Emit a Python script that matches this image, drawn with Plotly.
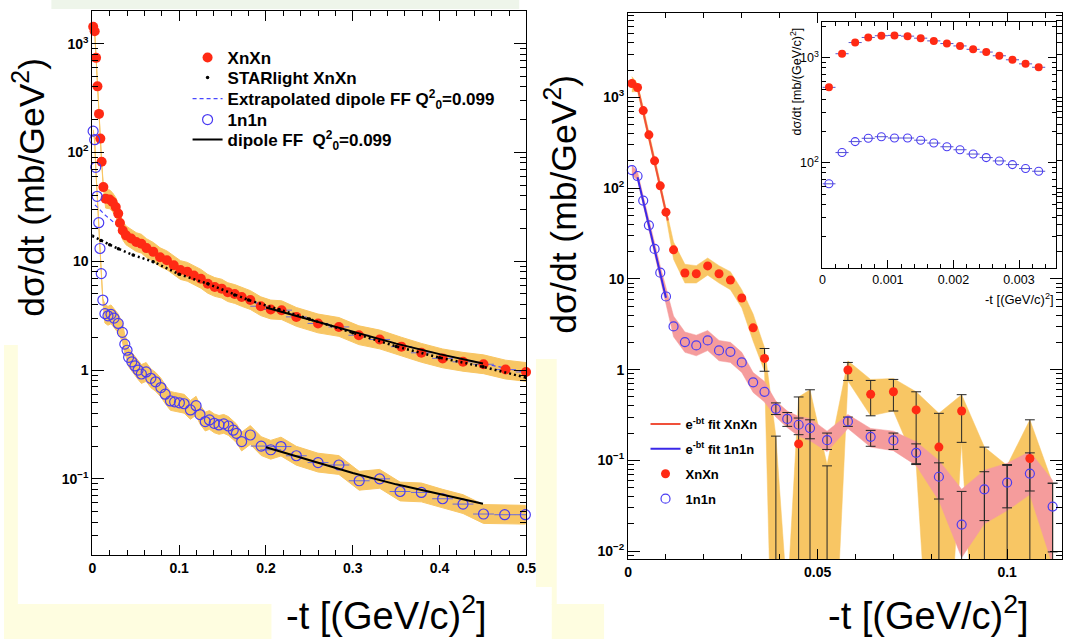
import plotly.graph_objects as go

W, H = 1073, 639
FONT = "Liberation Sans"
RED = "#ff2a14"
BLUE = "#4a3cf2"
ORANGE = "#f8c664"
PINK = "#f59c9c"

# ---------------- left panel data ----------------
t_xn_L = [0.001, 0.0027, 0.0043, 0.0059, 0.0077, 0.0092, 0.0107, 0.0127,
          0.0153, 0.0200, 0.0232, 0.0270, 0.0298, 0.0318, 0.0350, 0.0388,
          0.0447, 0.0506, 0.0565, 0.0624, 0.0702, 0.0780, 0.0859, 0.0938,
          0.1015, 0.1094, 0.1170, 0.1250, 0.1330, 0.1410, 0.1490, 0.1560,
          0.1640, 0.1720, 0.1820, 0.1940, 0.2055, 0.2180, 0.2350, 0.2600,
          0.2840, 0.3070, 0.3310, 0.3560, 0.3790, 0.4035, 0.4270, 0.4506,
          0.4760, 0.4996]
xn_L = [1430, 1300, 740, 405, 226, 134, 82, 48,
        37.6, 37, 35, 31.5, 27.4, 22.5, 19.2, 17.3,
        16.2, 15.0, 14.5, 13.2, 12.2, 10.9, 10.2, 9.2,
        8.3, 8.0, 7.4, 6.9, 6.2, 5.8, 5.6, 5.2,
        5.0, 4.7, 4.4, 3.86, 3.6, 3.55, 3.08, 2.68,
        2.49, 2.09, 1.91, 1.64, 1.44, 1.28, 1.19, 1.13,
        1.01, 0.96]

t_n1_L = [0.0009, 0.0027, 0.0039, 0.0055, 0.0074, 0.0088, 0.0103, 0.0121,
          0.0145, 0.0180, 0.0215, 0.0250,
          0.0298, 0.0346, 0.0374, 0.0400, 0.0418, 0.0455, 0.0491, 0.0527,
          0.0565, 0.0620, 0.0674, 0.0729, 0.0790, 0.0839, 0.0900, 0.0948,
          0.1003, 0.1057, 0.1130, 0.1195, 0.1240, 0.1301, 0.1349, 0.1404,
          0.1459, 0.1514, 0.1568, 0.1623, 0.1660,
          0.1720, 0.1820, 0.1945, 0.2055, 0.2173, 0.2350, 0.2600, 0.2840,
          0.3074, 0.3310, 0.3545, 0.3790, 0.4035, 0.4270, 0.4506, 0.4750,
          0.4988]
n1_L = [157, 131, 73, 39.5, 22.6, 13.1, 7.7, 4.4,
        3.3, 3.15, 3.25, 3.0,
        2.68, 2.22, 1.73, 1.52, 1.31, 1.19, 1.09, 1.0,
        0.92, 0.96, 0.84, 0.78, 0.69, 0.60, 0.52, 0.51,
        0.50, 0.49, 0.43, 0.47, 0.39, 0.336, 0.348, 0.324,
        0.313, 0.32, 0.306, 0.28, 0.262,
        0.22, 0.253, 0.2, 0.185, 0.198, 0.163, 0.141, 0.134,
        0.096, 0.1, 0.0765, 0.075, 0.0656, 0.0586, 0.0475, 0.0468,
        0.0468]

t_star = [0.0, 0.01, 0.02, 0.03, 0.047, 0.07, 0.10, 0.133, 0.164, 0.18,
          0.215, 0.25, 0.30, 0.35, 0.40, 0.45, 0.50]
star = [17.1, 15.5, 14.2, 13.0, 11.4, 9.9, 7.6, 6.2, 4.9, 4.4,
        3.6, 2.95, 2.2, 1.65, 1.3, 1.07, 0.85]

t_extrap = [0.003, 0.015, 0.031, 0.05, 0.10, 0.15, 0.20, 0.25, 0.30,
            0.35, 0.40, 0.45, 0.50]
extrap = [33, 26.5, 20.6, 15.5, 8.6, 5.6, 3.8, 2.9, 2.24, 1.75, 1.4, 1.15, 0.95]

t_dip = [0.20, 0.25, 0.30, 0.35, 0.40, 0.45]
dip_xn = [3.76, 2.9, 2.24, 1.75, 1.4, 1.15]
dip_n1 = [0.195, 0.148, 0.113, 0.089, 0.072, 0.059]

# band half-width (relative): thin near t=0, ~22% elsewhere
band_rel_small, band_rel = 0.03, 0.22
xerr_L = 0.012  # horizontal error bars visible at -t > 0.19

# ---------------- right panel data ----------------
t_R = [0.001, 0.0025, 0.004, 0.0055, 0.007, 0.0085, 0.010, 0.012, 0.015,
       0.018, 0.021, 0.024, 0.027, 0.030, 0.033, 0.036, 0.039, 0.042,
       0.045, 0.048, 0.0525, 0.058, 0.064, 0.070, 0.076, 0.082, 0.088,
       0.094, 0.100, 0.106, 0.112]
xn_R = [1423, 1286, 716, 387, 200, 106, 54.4, 20.9, 11.6, 11.4, 13.9, 11.4,
        9.7, 6.15, 2.89, 1.33, None, None, 0.152, None, None, 0.99, 0.536,
        0.57, 0.36, 0.14, 0.35, None, None, 0.105, None]
xn_bar_lo = [None] * 15 + [0.96, 1e-5, None, 1e-5, 1e-5, 1e-5, 0.76, 0.31,
                           0.35, 0.09, 1e-5, 0.158, 1e-5, 1e-5, 1e-5, 1e-5]
xn_bar_hi = [None] * 15 + [1.71, 0.185, None, 0.5, 0.6, 0.087, 1.2, 0.76,
                           0.78, 0.57, 0.33, 0.53, 0.14, 0.088, 0.28, 0.056]
xn_band_lo = [1150, 1160, 645, 350, 180, 95, 49, 16.5, 9.0, 9.0, 11.0, 9.0,
              7.6, 4.8, 2.06, 0.96, 1e-5, 1e-5, 1e-5, 1e-5, 1e-5, 0.75, 0.31,
              0.35, 0.09, 1e-5, 0.158, 1e-5, 1e-5, 1e-5, 1e-5]
xn_band_hi = [1700, 1420, 790, 425, 220, 117, 60, 25.5, 14.5, 14.0, 17.0,
              14.0, 12.0, 7.6, 4.1, 1.75, 0.185, 0.003, 0.5, 0.6, 0.09, 1.25,
              0.78, 0.8, 0.57, 0.33, 0.53, 0.14, 0.088, 0.28, 0.056]

n1_R = [158, 136, 73, 38.9, 21.4, 11.7, 6.4, 2.99, 2.01, 1.85, 2.10, 1.63,
        1.57, 1.2, 0.725, 0.57, 0.37, 0.286, 0.247, 0.227, 0.167, 0.269,
        0.182, 0.166, 0.121, 0.066, 0.0196, 0.048, 0.057, 0.0716, 0.031]
n1_bar_lo = [None] * 16 + [0.32, 0.237, 0.192, 0.173, 0.132, 0.237, 0.143,
                           0.132, 0.092, 0.0375, 1e-5, 0.0217, 0.030, 0.046,
                           0.0098]
n1_bar_hi = [None] * 16 + [0.43, 0.337, 0.293, 0.28, 0.2, 0.3, 0.214, 0.2,
                           0.152, 0.094, 0.0455, 0.075, 0.09, 0.121, 0.056]
n1_band_lo = [140, 122, 65, 34, 18.5, 10, 5.3, 2.3, 1.55, 1.42, 1.62, 1.25,
              1.2, 0.93, 0.56, 0.44, 0.30, 0.23, 0.185, 0.165, 0.125, 0.225,
              0.14, 0.128, 0.088, 0.036, 0.0085, 0.02, 0.028, 0.042, 0.007]
n1_band_hi = [178, 152, 82, 44, 25, 13.8, 7.8, 3.9, 2.6, 2.4, 2.7, 2.1, 2.0,
              1.55, 0.93, 0.74, 0.45, 0.35, 0.305, 0.29, 0.21, 0.32, 0.225,
              0.21, 0.16, 0.1, 0.048, 0.078, 0.093, 0.125, 0.06]

fit_t_xn = [0.0025, 0.0105]
fit_xn = [1300, 44]
fit_t_n1 = [0.0025, 0.0100]
fit_n1 = [132, 6.2]

# ---------------- inset data ----------------
t_in = [0.0001, 0.0003, 0.0005, 0.0007, 0.0009, 0.0011, 0.0013, 0.0015,
        0.0017, 0.0019, 0.0021, 0.0023, 0.0025, 0.0027, 0.0029, 0.0031,
        0.0033]
xn_in = [523, 1093, 1397, 1562, 1622, 1634, 1608, 1538, 1449, 1366, 1297,
         1204, 1134, 1045, 957, 875, 812]
n1_in = [63, 125, 159, 171, 177, 172, 172, 164, 154, 142, 133, 121, 112,
         104, 96, 88, 83]
xerr_in = 0.0001


def PX(x):
    return x / W


def PY(y):
    return 1 - y / H


def band_xy(t, lo, hi):
    pts = [(a, l, h) for a, l, h in zip(t, lo, hi) if l is not None and h is not None]
    xs = [p[0] for p in pts]
    return xs + xs[::-1], [p[2] for p in pts] + [p[1] for p in pts][::-1]


def bar_xy(t, lo, hi):
    xs, ys, cx, cy = [], [], [], []
    for a, l, h in zip(t, lo, hi):
        if l is None or h is None:
            continue
        xs += [a, a, None]
        ys += [l, h, None]
        cx.append(a); cy.append(h)
        if l > 1e-3:
            cx.append(a); cy.append(l)
    return xs, ys, cx, cy


def open_circle(size, width):
    return dict(symbol="circle-open", color=BLUE, size=size, line=dict(width=width))


fig = go.Figure()

# ---------- left panel ----------
def rel_band(t, v):
    lo, hi = [], []
    for a, y in zip(t, v):
        r = band_rel_small if a < 0.013 else band_rel
        lo.append(y / (1 + r)); hi.append(y * (1 + r))
    return lo, hi

for tt, vv in ((t_xn_L, xn_L), (t_n1_L, n1_L)):
    lo, hi = rel_band(tt, vv)
    bx, by = band_xy(tt, lo, hi)
    fig.add_trace(go.Scatter(x=bx, y=by, fill="toself", fillcolor=ORANGE, mode="lines",
                             line=dict(color=ORANGE, width=1), showlegend=False,
                             hoverinfo="skip", xaxis="x", yaxis="y"))

fig.add_trace(go.Scatter(x=t_extrap, y=extrap, mode="lines",
                         line=dict(color="#4848ff", width=1.2, dash="4px,3px"),
                         name="Extrapolated dipole FF Q<sup>2</sup><sub>0</sub>=0.099",
                         legend="legend4", xaxis="x", yaxis="y"))

fig.add_trace(go.Scatter(x=t_xn_L, y=xn_L, mode="markers", name="XnXn",
                         marker=dict(color=RED, size=10),
                         error_x=dict(type="data", array=[xerr_L if a > 0.19 else 0 for a in t_xn_L],
                                      color="#6a6adb", thickness=1, width=0),
                         cliponaxis=False, legend="legend",
                         xaxis="x", yaxis="y"))
fig.add_trace(go.Scatter(x=t_n1_L, y=n1_L, mode="markers", name="1n1n",
                         marker=open_circle(10, 1.2),
                         error_x=dict(type="data", array=[xerr_L if a > 0.19 else 0 for a in t_n1_L],
                                      color="#6a6adb", thickness=1, width=0),
                         cliponaxis=False, legend="legend5",
                         xaxis="x", yaxis="y"))

fig.add_trace(go.Scatter(x=t_star, y=star, mode="lines",
                         line=dict(color="black", width=2.5, dash="2px,3px"),
                         showlegend=False, hoverinfo="skip", xaxis="x", yaxis="y"))
fig.add_trace(go.Scatter(x=t_star, y=star, mode="markers", name="STARlight XnXn",
                         marker=dict(color="black", size=3.5), legend="legend3",
                         xaxis="x", yaxis="y"))

fig.add_trace(go.Scatter(x=t_dip, y=dip_xn, mode="lines",
                         line=dict(color="black", width=2),
                         name="dipole FF  Q<sup>2</sup><sub>0</sub>=0.099",
                         legend="legend6", xaxis="x", yaxis="y"))
fig.add_trace(go.Scatter(x=t_dip, y=dip_n1, mode="lines",
                         line=dict(color="black", width=2), showlegend=False,
                         xaxis="x", yaxis="y"))

# ---------- right panel ----------
bx, by = band_xy(t_R, xn_band_lo, xn_band_hi)
fig.add_trace(go.Scatter(x=bx, y=by, fill="toself", fillcolor=ORANGE, mode="lines",
                         line=dict(color=ORANGE, width=0.5), showlegend=False,
                         hoverinfo="skip", xaxis="x2", yaxis="y2"))
bx, by = band_xy(t_R, n1_band_lo, n1_band_hi)
fig.add_trace(go.Scatter(x=bx, y=by, fill="toself", fillcolor=PINK, mode="lines",
                         line=dict(color=PINK, width=0.5), showlegend=False,
                         hoverinfo="skip", xaxis="x2", yaxis="y2"))

for lo, hi in ((xn_bar_lo, xn_bar_hi), (n1_bar_lo, n1_bar_hi)):
    ex, ey, cx, cy = bar_xy(t_R, lo, hi)
    fig.add_trace(go.Scatter(x=ex, y=ey, mode="lines", line=dict(color="#262626", width=1),
                             showlegend=False, hoverinfo="skip", xaxis="x2", yaxis="y2"))
    fig.add_trace(go.Scatter(x=cx, y=cy, mode="markers",
                             marker=dict(symbol="line-ew", size=7, color="#262626",
                                         line=dict(color="#262626", width=1)),
                             showlegend=False, hoverinfo="skip", xaxis="x2", yaxis="y2"))

fig.add_trace(go.Scatter(x=fit_t_xn, y=fit_xn, mode="lines",
                         line=dict(color="#f0503a", width=2),
                         name="e<sup>-bt</sup> fit XnXn", legend="legend2",
                         legendgroup="a", legendrank=1, xaxis="x2", yaxis="y2"))
fig.add_trace(go.Scatter(x=fit_t_n1, y=fit_n1, mode="lines",
                         line=dict(color="#3a28e8", width=2),
                         name="e<sup>-bt</sup> fit 1n1n", legend="legend2",
                         legendgroup="b", legendrank=2, xaxis="x2", yaxis="y2"))
fig.add_trace(go.Scatter(x=t_R, y=xn_R, mode="markers", name="XnXn",
                         marker=dict(color=RED, size=9), cliponaxis=False,
                         legend="legend2", legendgroup="c", legendrank=3,
                         xaxis="x2", yaxis="y2"))
fig.add_trace(go.Scatter(x=t_R, y=n1_R, mode="markers", name="1n1n",
                         marker=open_circle(9, 1.2),
                         cliponaxis=False, legend="legend2", legendgroup="d",
                         legendrank=4, xaxis="x2", yaxis="y2"))

# ---------- inset ----------
fig.add_trace(go.Scatter(x=t_in, y=xn_in, mode="markers",
                         marker=dict(color=RED, size=8),
                         error_x=dict(type="constant", value=xerr_in, color="#5555cc",
                                      thickness=1, width=0),
                         showlegend=False, cliponaxis=False, xaxis="x3", yaxis="y3"))
fig.add_trace(go.Scatter(x=t_in, y=n1_in, mode="markers",
                         marker=open_circle(8, 1.1),
                         error_x=dict(type="constant", value=xerr_in, color="#5555cc",
                                      thickness=1, width=0),
                         showlegend=False, cliponaxis=False, xaxis="x3", yaxis="y3"))

# ---------- axes ----------
def minor_log(e0, e1):
    return [m * 10 ** e for e in range(e0, e1 + 1) for m in range(2, 10)]


def pow_label(v):
    table = {0.01: "10<sup>−2</sup>", 0.1: "10<sup>−1</sup>", 1: "1", 10: "10",
             100: "10<sup>2</sup>", 1000: "10<sup>3</sup>"}
    return table[v]


bold14 = dict(family=FONT, size=14, color="black", weight="bold")
reg12 = dict(family=FONT, size=12.5, color="black")
common = dict(showline=True, linecolor="black", linewidth=1, mirror="allticks",
              ticks="inside", tickcolor="black", tickwidth=1, showgrid=False,
              zeroline=False)

ytick_L = [0.1, 1, 10, 100, 1000]
ytick_R = [0.01, 0.1, 1, 10, 100, 1000]
ytick_I = [100, 1000]

left_legend_font = dict(family=FONT, size=17, color="black", weight="bold")


def left_legend(yc):
    return dict(x=PX(186), y=PY(yc), xanchor="left", yanchor="middle",
                bgcolor="rgba(0,0,0,0)", borderwidth=0, font=left_legend_font)


fig.update_layout(
    width=W, height=H, autosize=False,
    margin=dict(l=0, r=0, t=0, b=0),
    paper_bgcolor="white", plot_bgcolor="white",
    xaxis=dict(common, domain=[PX(89.5), PX(529.3)], range=[0, 0.5], anchor="y",
               tickvals=[0, 0.1, 0.2, 0.3, 0.4, 0.5],
               ticktext=["0", "0.1", "0.2", "0.3", "0.4", "0.5"], ticklen=10,
               minor=dict(ticks="inside", ticklen=5, dtick=0.02, tick0=0,
                          tickcolor="black", showgrid=False),
               tickfont=bold14),
    yaxis=dict(common, type="log", domain=[PY(555), PY(11)], range=[-1.70, 3.30],
               anchor="x", tickvals=ytick_L, ticktext=[pow_label(v) for v in ytick_L],
               ticklen=12,
               minor=dict(ticks="inside", ticklen=6, tickvals=minor_log(-2, 3),
                          tickcolor="black", showgrid=False),
               tickfont=bold14),
    xaxis2=dict(common, domain=[PX(632.3), PX(1071.7)], range=[0, 0.1144], anchor="y2",
                tickvals=[0, 0.05, 0.1], ticktext=["0", "0.05", "0.1"], ticklen=10,
                minor=dict(ticks="inside", ticklen=5, dtick=0.01, tick0=0,
                           tickcolor="black", showgrid=False),
                tickfont=bold14),
    yaxis2=dict(common, type="log", domain=[PY(559.3), PY(13)], range=[-2.09, 3.93],
                anchor="x2", tickvals=ytick_R, ticktext=[pow_label(v) for v in ytick_R],
                ticklen=12,
                minor=dict(ticks="inside", ticklen=6, tickvals=minor_log(-3, 3),
                           tickcolor="black", showgrid=False),
                tickfont=bold14),
    xaxis3=dict(common, domain=[PX(829.2), PX(1066)], range=[0, 0.003566], anchor="y3",
                tickvals=[0, 0.001, 0.002, 0.003], ticktext=["0", "0.001", "0.002", "0.003"],
                ticklen=8,
                minor=dict(ticks="inside", ticklen=4, dtick=0.0002, tick0=0,
                           tickcolor="black", showgrid=False),
                tickfont=reg12),
    yaxis3=dict(common, type="log", domain=[PY(267.7), PY(22.1)], range=[1.0, 3.34],
                anchor="x3", tickvals=ytick_I, ticktext=[pow_label(v) for v in ytick_I],
                ticklen=8,
                minor=dict(ticks="inside", ticklen=4, tickvals=minor_log(1, 3),
                           tickcolor="black", showgrid=False),
                tickfont=reg12),
    legend=left_legend(58),
    legend3=left_legend(78),
    legend4=left_legend(99),
    legend5=left_legend(120),
    legend6=left_legend(140),
    legend2=dict(x=PX(650), y=PY(409), xanchor="left", yanchor="top",
                 bgcolor="rgba(0,0,0,0)", borderwidth=0, tracegroupgap=5,
                 font=dict(family=FONT, size=13, color="black", weight="bold")),
)

# ---------- slide background pieces ----------
YEL = "#fefde0"
shapes = [
    dict(x0=48, x1=522, y0=0, y1=9, color="#eef5ea"),
    dict(x0=0, x1=14, y0=345, y1=639, color=YEL),
    dict(x0=0, x1=271, y0=604, y1=639, color=YEL),
    dict(x0=539, x1=560, y0=359, y1=587, color=YEL),
    dict(x0=555, x1=560, y0=587, y1=605, color=YEL),
    dict(x0=555, x1=608, y0=604, y1=639, color=YEL),
]
for s in shapes:
    fig.add_shape(type="rect", xref="paper", yref="paper",
                  x0=PX(s["x0"]), x1=PX(s["x1"]), y0=PY(s["y1"]), y1=PY(s["y0"]),
                  fillcolor=s["color"], line=dict(width=0), layer="below")

# ---------- titles ----------
big_y = dict(family=FONT, size=35.5, color="black")
big_x = dict(family=FONT, size=38, color="black")
ann = [
    dict(text="dσ/dt (mb/GeV<sup>2</sup>)", x=PX(25), y=PY(187), textangle=-90, font=big_y),
    dict(text="dσ/dt (mb/GeV<sup>2</sup>)", x=PX(565), y=PY(204), textangle=-90, font=big_y),
    dict(text="-t [(GeV/c)<sup>2</sup>]", x=PX(388), y=PY(613), font=big_x),
    dict(text="-t [(GeV/c)<sup>2</sup>]", x=PX(937), y=PY(613), font=big_x),
    dict(text="dσ/dt [mb/(GeV/c)<sup>2</sup>]", x=PX(802), y=PY(82), textangle=-90,
         font=dict(family=FONT, size=12.5, color="black")),
    dict(text="-t [(GeV/c)<sup>2</sup>]", x=PX(1066), y=PY(299), xanchor="right",
         font=dict(family=FONT, size=13, color="black")),
]
for a in ann:
    base = dict(xref="paper", yref="paper", showarrow=False, xanchor="center",
                yanchor="middle")
    base.update(a)
    fig.add_annotation(**base)

# remove the browser's default 8px body margin so the figure sits at (0,0)
fig.write_html("out.html",
               config={"displayModeBar": False},
               post_script="document.body.style.margin='0';"
                           "document.body.style.overflow='hidden';")
